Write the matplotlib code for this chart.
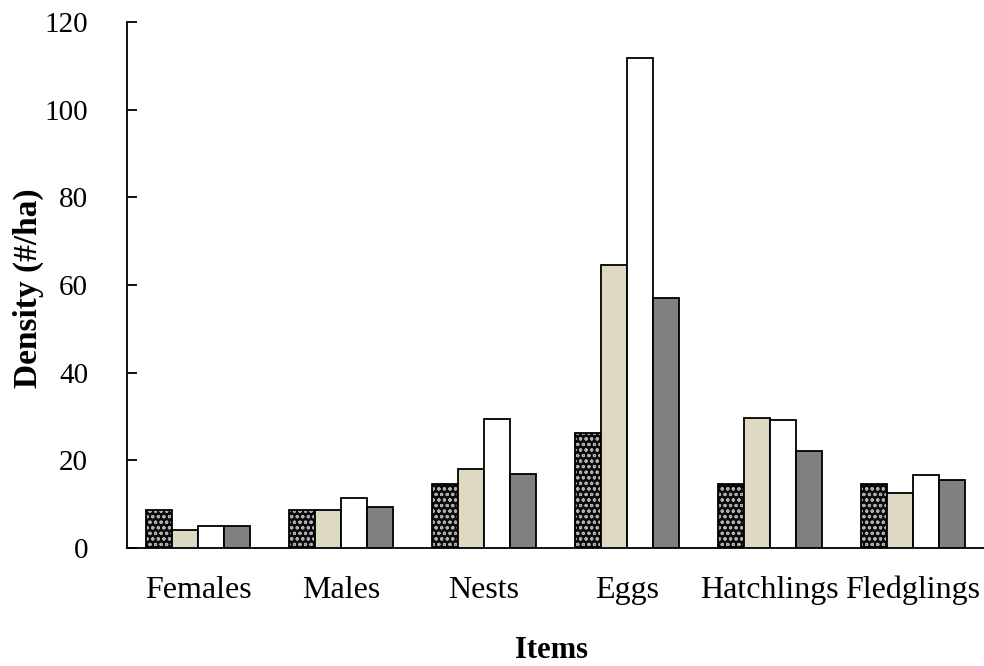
import matplotlib
matplotlib.use("Agg")
import matplotlib.pyplot as plt
import numpy as np

plt.rcParams['font.family'] = ['Liberation Serif', 'DejaVu Serif']
plt.rcParams['hatch.linewidth'] = 0.8

categories = ["Females", "Males", "Nests", "Eggs", "Hatchlings", "Fledglings"]
series1 = [8.7, 8.7, 14.6, 26.3, 14.6, 14.6]   # hatched
series2 = [4.1, 8.7, 18.0, 64.6, 29.6, 12.5]   # beige
series3 = [5.1, 11.5, 29.4, 111.7, 29.2, 16.7]  # white
series4 = [5.0, 9.4, 16.9, 57.0, 22.1, 15.4]   # gray
yticks = [0, 20, 40, 60, 80, 100, 120]

fig = plt.figure(figsize=(9.84, 6.66), dpi=100)
ax = fig.add_axes([127/984, 118/666, 857/984, 526/666])

x = np.arange(len(categories))
w = 0.182
offs = [-1.5, -0.5, 0.5, 1.5]

# hatched series: dark face with light hatch, then black outline
ax.bar(x + offs[0]*w, series1, w, facecolor='#0a0a0a', edgecolor='#b0b0b0',
       hatch='ooo', linewidth=0, zorder=2)
ax.bar(x + offs[0]*w, series1, w, fill=False, edgecolor='black', linewidth=1.3, zorder=3)
ax.bar(x + offs[1]*w, series2, w, facecolor='#ddd9c3', edgecolor='black', linewidth=1.3, zorder=3)
ax.bar(x + offs[2]*w, series3, w, facecolor='white', edgecolor='black', linewidth=1.3, zorder=3)
ax.bar(x + offs[3]*w, series4, w, facecolor='#808080', edgecolor='black', linewidth=1.3, zorder=3)

ax.set_xlim(-0.5, 5.5)
ax.set_ylim(0, 120)
ax.set_yticks(yticks)
ax.set_xticks(x)
ax.set_xticklabels(categories, fontsize=23)
ax.tick_params(axis='y', direction='in', length=7, width=1.3, labelsize=21, pad=28)
ax.tick_params(axis='x', length=0, pad=20)
for s in ['top', 'right']:
    ax.spines[s].set_visible(False)
for s in ['left', 'bottom']:
    ax.spines[s].set_linewidth(1.3)

fig.text(28/984, 1 - 288/666, "Density (#/ha)", fontsize=24, fontweight='bold',
         rotation=90, ha='center', va='center')
fig.text(551/984, 1 - 650/666, "Items", fontsize=22, fontweight='bold',
         ha='center', va='center')

fig.savefig("out.png", dpi=100)
